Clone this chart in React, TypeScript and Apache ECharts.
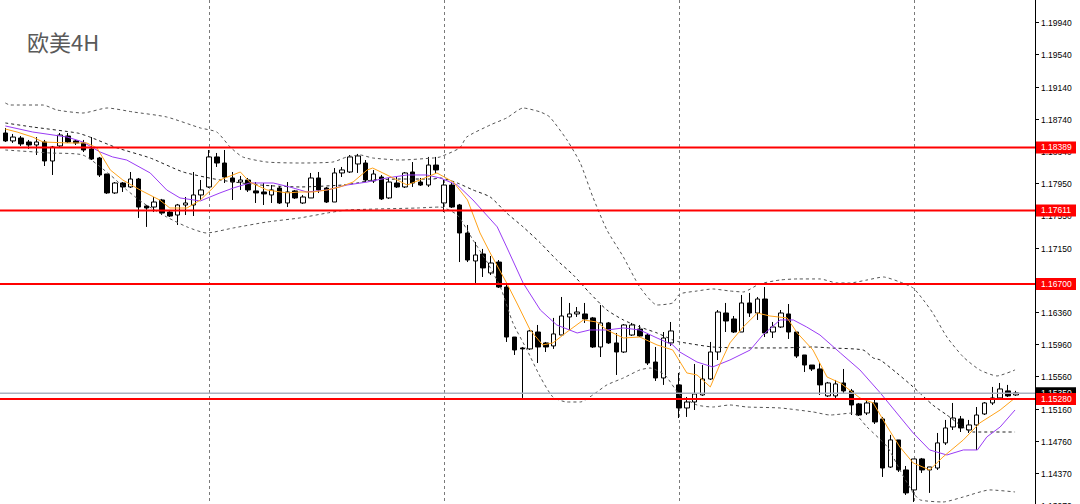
import React, { useEffect, useRef } from "react";
import * as echarts from "echarts";

const titleText = "欧美4H";

// [open, close, low, high] per 4H bar
const candles: number[][] = [
  [1.18568, 1.18470, 1.18457, 1.18630],
  [1.18470, 1.18518, 1.18445, 1.18556],
  [1.18506, 1.18433, 1.18408, 1.18531],
  [1.18457, 1.18420, 1.18371, 1.18482],
  [1.18420, 1.18457, 1.18296, 1.18518],
  [1.18457, 1.18222, 1.18160, 1.18482],
  [1.18222, 1.18395, 1.18049, 1.18408],
  [1.18408, 1.18543, 1.18395, 1.18568],
  [1.18531, 1.18457, 1.18445, 1.18568],
  [1.18470, 1.18445, 1.18420, 1.18482],
  [1.18445, 1.18358, 1.18333, 1.18482],
  [1.18371, 1.18247, 1.18234, 1.18518],
  [1.18259, 1.18049, 1.18024, 1.18272],
  [1.18061, 1.17827, 1.17815, 1.18061],
  [1.17827, 1.17950, 1.17815, 1.17962],
  [1.17950, 1.17901, 1.17839, 1.17962],
  [1.17901, 1.17999, 1.17888, 1.18086],
  [1.17999, 1.17653, 1.17518, 1.18012],
  [1.17666, 1.17641, 1.17407, 1.17678],
  [1.17653, 1.17715, 1.17591, 1.17777],
  [1.17740, 1.17579, 1.17554, 1.17753],
  [1.17591, 1.17542, 1.17530, 1.17604],
  [1.17554, 1.17678, 1.17431, 1.17691],
  [1.17678, 1.17703, 1.17554, 1.17777],
  [1.17678, 1.17802, 1.17542, 1.18086],
  [1.17802, 1.17864, 1.17740, 1.17987],
  [1.17901, 1.18272, 1.17888, 1.18358],
  [1.18272, 1.18197, 1.18148, 1.18321],
  [1.18197, 1.18024, 1.17950, 1.18358],
  [1.18012, 1.17962, 1.17740, 1.18086],
  [1.17962, 1.17987, 1.17864, 1.18037],
  [1.17987, 1.17864, 1.17839, 1.18012],
  [1.17852, 1.17827, 1.17703, 1.17962],
  [1.17839, 1.17815, 1.17678, 1.17950],
  [1.17802, 1.17864, 1.17703, 1.17925],
  [1.17888, 1.17703, 1.17691, 1.17913],
  [1.17703, 1.17839, 1.17653, 1.17962],
  [1.17852, 1.17765, 1.17753, 1.17864],
  [1.17703, 1.17777, 1.17691, 1.17802],
  [1.17765, 1.18012, 1.17765, 1.18074],
  [1.18012, 1.17864, 1.17827, 1.18086],
  [1.17888, 1.17715, 1.17703, 1.17901],
  [1.17715, 1.18074, 1.17715, 1.18135],
  [1.18074, 1.18111, 1.18024, 1.18148],
  [1.18086, 1.18272, 1.18074, 1.18296],
  [1.18185, 1.18284, 1.18074, 1.18309],
  [1.18197, 1.17987, 1.17962, 1.18234],
  [1.17975, 1.18061, 1.17950, 1.18111],
  [1.18024, 1.17753, 1.17740, 1.18049],
  [1.17765, 1.17962, 1.17753, 1.18012],
  [1.17950, 1.17901, 1.17888, 1.18024],
  [1.17901, 1.18074, 1.17888, 1.18086],
  [1.18086, 1.17950, 1.17901, 1.18209],
  [1.17962, 1.17925, 1.17913, 1.18012],
  [1.17925, 1.18172, 1.17901, 1.18272],
  [1.18172, 1.18111, 1.18074, 1.18272],
  [1.17703, 1.17925, 1.17591, 1.17987],
  [1.17925, 1.17653, 1.17641, 1.17950],
  [1.17678, 1.17332, 1.16973, 1.17691],
  [1.17332, 1.16998, 1.16973, 1.17431],
  [1.16986, 1.17060, 1.16714, 1.17221],
  [1.17073, 1.16900, 1.16788, 1.17135],
  [1.16838, 1.16961, 1.16813, 1.17048],
  [1.16973, 1.16664, 1.16652, 1.16998],
  [1.16664, 1.16046, 1.15985, 1.16689],
  [1.16046, 1.15886, 1.15824, 1.16046],
  [1.15911, 1.15899, 1.15293, 1.15923],
  [1.15899, 1.16121, 1.15886, 1.16133],
  [1.16108, 1.15923, 1.15725, 1.16195],
  [1.15973, 1.15923, 1.15861, 1.15985],
  [1.15936, 1.16084, 1.15899, 1.16282],
  [1.16071, 1.16306, 1.16071, 1.16541],
  [1.16294, 1.16331, 1.16133, 1.16467],
  [1.16331, 1.16355, 1.16294, 1.16417],
  [1.16331, 1.16269, 1.16220, 1.16467],
  [1.16282, 1.15923, 1.15911, 1.16294],
  [1.15923, 1.16220, 1.15799, 1.16442],
  [1.16220, 1.15973, 1.15961, 1.16232],
  [1.15973, 1.15861, 1.15577, 1.16096],
  [1.15861, 1.16195, 1.15849, 1.16207],
  [1.16071, 1.16195, 1.16059, 1.16220],
  [1.16145, 1.16059, 1.16046, 1.16195],
  [1.16071, 1.15725, 1.15700, 1.16096],
  [1.15737, 1.15540, 1.15503, 1.15923],
  [1.15540, 1.16034, 1.15454, 1.16108],
  [1.15973, 1.16121, 1.15936, 1.16232],
  [1.15454, 1.15169, 1.15045, 1.15602],
  [1.15169, 1.15243, 1.15058, 1.15305],
  [1.15243, 1.15342, 1.15144, 1.15713],
  [1.15330, 1.15527, 1.15318, 1.15700],
  [1.15527, 1.15861, 1.15515, 1.15985],
  [1.15861, 1.16355, 1.15762, 1.16380],
  [1.16343, 1.16244, 1.16108, 1.16467],
  [1.16269, 1.16108, 1.16096, 1.16306],
  [1.16108, 1.16467, 1.16108, 1.16566],
  [1.16467, 1.16343, 1.16294, 1.16591],
  [1.16343, 1.16516, 1.16257, 1.16541],
  [1.16516, 1.16096, 1.16046, 1.16664],
  [1.16108, 1.16170, 1.16034, 1.16232],
  [1.16170, 1.16343, 1.16158, 1.16380],
  [1.16331, 1.16108, 1.16022, 1.16454],
  [1.16108, 1.15811, 1.15787, 1.16108],
  [1.15824, 1.15700, 1.15614, 1.15824],
  [1.15700, 1.15651, 1.15626, 1.15700],
  [1.15651, 1.15454, 1.15330, 1.15737],
  [1.15318, 1.15478, 1.15305, 1.15491],
  [1.15318, 1.15466, 1.15293, 1.15515],
  [1.15478, 1.15380, 1.15355, 1.15651],
  [1.15380, 1.15206, 1.15082, 1.15404],
  [1.15219, 1.15082, 1.15070, 1.15231],
  [1.15107, 1.15231, 1.15082, 1.15268],
  [1.15231, 1.14996, 1.14971, 1.15268],
  [1.15033, 1.14427, 1.14316, 1.15058],
  [1.14439, 1.14774, 1.14427, 1.14836],
  [1.14774, 1.14403, 1.14378, 1.14774],
  [1.14403, 1.14119, 1.14094, 1.14452],
  [1.14156, 1.14539, 1.14007, 1.14539],
  [1.14539, 1.14403, 1.14366, 1.14551],
  [1.14403, 1.14440, 1.14119, 1.14440],
  [1.14427, 1.14737, 1.14403, 1.14860],
  [1.14737, 1.14922, 1.14712, 1.15021],
  [1.14934, 1.15045, 1.14897, 1.15231],
  [1.15033, 1.14922, 1.14872, 1.15070],
  [1.14897, 1.14959, 1.14860, 1.15021],
  [1.14959, 1.15082, 1.14650, 1.15181],
  [1.15095, 1.15231, 1.15082, 1.15243],
  [1.15231, 1.15293, 1.15206, 1.15429],
  [1.15293, 1.15404, 1.15280, 1.15478],
  [1.15380, 1.15318, 1.15305, 1.15454],
  [1.15330, 1.15355, 1.15318, 1.15380],
];

// bar slots on the x axis (130 bars + 2 empty slots of chart shift)
const barLabels: string[] = candles.map((_, i) => "B" + i).concat(["B130", "B131"]);

// fast MA (orange) read at bar positions
const maFast: number[][] = [
  [0, 1.18617], [1.5, 1.1858], [3.5, 1.18518], [4.8, 1.18457], [7.9, 1.18445], [10.4, 1.18445],
  [11.7, 1.18383], [13.4, 1.18111], [15.0, 1.17987], [17.2, 1.17864], [19.7, 1.1774], [21.0, 1.17641],
  [23.2, 1.17641], [24.9, 1.1774], [26.5, 1.17888], [27.4, 1.17987], [30.0, 1.18086], [31.2, 1.17962],
  [33.4, 1.17864], [36.0, 1.17827], [37.6, 1.17839], [39.3, 1.17839], [41.1, 1.17864], [42.7, 1.17901],
  [44.4, 1.17962], [46.2, 1.18111], [46.9, 1.18135], [48.2, 1.18074], [49.5, 1.18012], [51.3, 1.17925],
  [52.9, 1.17987], [55.1, 1.18074], [57.2, 1.17962], [59.0, 1.1774], [60.6, 1.17332], [61.9, 1.17085],
  [64.0, 1.16714], [65.3, 1.16467], [67.0, 1.16133], [68.6, 1.15948], [69.9, 1.15973], [71.7, 1.16108],
  [73.8, 1.16257], [75.5, 1.16232], [76.8, 1.16133], [78.9, 1.16034], [81.0, 1.16046], [83.2, 1.15948],
  [85.2, 1.15886], [87.0, 1.15602], [88.3, 1.15577], [90.0, 1.15429], [91.3, 1.15725], [92.5, 1.15973],
  [94.2, 1.1617], [96.0, 1.16343], [97.6, 1.16306], [99.8, 1.16282], [101.1, 1.16096], [103.1, 1.15886],
  [104.9, 1.15552], [106.6, 1.15478], [109.1, 1.15293], [110.8, 1.15231], [112.6, 1.14934], [114.2, 1.14687],
  [115.9, 1.14489], [118.0, 1.14403], [119.7, 1.14563], [122.3, 1.14774], [124.4, 1.14984], [127.0, 1.15144],
  [128.9, 1.15293],
];

// slow MA (purple)
const maSlow: number[][] = [
  [0, 1.18655], [3.5, 1.1858], [7.9, 1.18518], [9.9, 1.18457], [12.1, 1.18333], [13.7, 1.18272],
  [15.5, 1.18234], [18.5, 1.18074], [20.6, 1.17864], [22.3, 1.17765], [24.9, 1.17728], [27.4, 1.17827],
  [29.1, 1.17888], [31.2, 1.1795], [34.2, 1.1795], [36.3, 1.17901], [38.5, 1.17839], [41.1, 1.17864],
  [43.6, 1.17925], [46.2, 1.17962], [48.7, 1.18012], [51.3, 1.18049], [53.8, 1.18049], [55.5, 1.18012],
  [57.7, 1.17925], [59.7, 1.1774], [62.8, 1.17407], [64.0, 1.17159], [66.1, 1.16714], [68.3, 1.1638],
  [70.4, 1.16195], [73.0, 1.16096], [74.6, 1.16133], [76.8, 1.16133], [78.9, 1.16158], [81.0, 1.16133],
  [83.2, 1.16034], [85.2, 1.15948], [86.1, 1.15861], [88.3, 1.15737], [90.3, 1.15676], [92.5, 1.15762],
  [95.1, 1.15886], [96.7, 1.16071], [98.9, 1.16257], [100.6, 1.16257], [102.3, 1.1617], [104.0, 1.16071],
  [106.6, 1.15849], [109.1, 1.15639], [111.7, 1.15355], [113.8, 1.15107], [115.9, 1.1486], [118.0, 1.1465],
  [120.2, 1.14588], [122.3, 1.1465], [124.1, 1.1465], [125.3, 1.14811], [127.0, 1.14934], [128.9, 1.15144],
];

// Bollinger upper band
const bandUpper: number[][] = [
  [0, 1.18939], [0.6, 1.18914], [4.8, 1.18914], [6.6, 1.18852], [9.9, 1.18815], [13.0, 1.18877],
  [16.3, 1.18828], [20.6, 1.18766], [24.9, 1.1863], [27.0, 1.1858], [28.7, 1.18395], [30.3, 1.18272],
  [33.4, 1.18209], [37.6, 1.18197], [41.8, 1.18209], [43.6, 1.18272], [45.3, 1.18296], [46.9, 1.18259],
  [50.4, 1.18234], [54.6, 1.18259], [55.5, 1.18272], [58.0, 1.18383], [58.9, 1.18518], [61.9, 1.18667],
  [64.0, 1.18754], [66.1, 1.18877], [68.3, 1.18828], [69.5, 1.18766], [71.7, 1.18482], [73.4, 1.18197],
  [75.0, 1.17777], [76.8, 1.17369], [78.9, 1.17036], [81.0, 1.16664], [83.2, 1.16442], [85.2, 1.16467],
  [86.1, 1.16578], [88.3, 1.16615], [90.3, 1.1664], [92.5, 1.16615], [94.2, 1.16603], [96.3, 1.16702],
  [98.9, 1.16751], [101.1, 1.16764], [104.0, 1.16764], [106.2, 1.16714], [107.8, 1.16714], [110.0, 1.16751],
  [112.1, 1.16788], [114.2, 1.16726], [115.9, 1.16652], [117.2, 1.16504], [118.4, 1.16343], [120.2, 1.16046],
  [122.3, 1.15799], [124.4, 1.15639], [126.6, 1.15565], [128.9, 1.15639],
];

// Bollinger middle line
const bandMiddle: number[][] = [
  [0, 1.18692], [3.5, 1.18642], [9.2, 1.18568], [10.8, 1.18518], [14.3, 1.18383], [18.5, 1.18259],
  [22.7, 1.18086], [27.4, 1.17987], [32.5, 1.17925], [37.6, 1.17901], [43.1, 1.17925], [44.9, 1.1795],
  [46.9, 1.17987], [50.4, 1.17999], [54.6, 1.17999], [55.5, 1.18012], [57.7, 1.1795], [59.7, 1.17864],
  [61.9, 1.17777], [64.0, 1.17579], [66.1, 1.17407], [68.3, 1.17209], [70.4, 1.16998], [72.5, 1.16813],
  [74.6, 1.16591], [76.8, 1.1638], [78.9, 1.16257], [81.0, 1.1617], [83.2, 1.16096], [85.2, 1.1601],
  [86.1, 1.15985], [90.3, 1.15923], [94.7, 1.15911], [98.9, 1.15911], [103.1, 1.15923], [105.3, 1.15911],
  [109.5, 1.15886], [110.8, 1.15787], [111.7, 1.15762], [113.8, 1.15602], [115.9, 1.15429], [118.4, 1.15206],
  [120.2, 1.15082], [121.9, 1.14959], [123.5, 1.14872], [128.9, 1.14872],
];

// Bollinger lower band
const bandLower: number[][] = [
  [0, 1.18358], [5.7, 1.18321], [9.9, 1.18296], [13.4, 1.18049], [15.5, 1.17864], [17.6, 1.17703],
  [20.6, 1.1753], [23.2, 1.17407], [25.7, 1.17332], [29.1, 1.17394], [33.4, 1.17468], [37.6, 1.17518],
  [41.1, 1.17579], [43.6, 1.17616], [52.6, 1.17641], [55.5, 1.17653], [57.7, 1.17554], [59.7, 1.17246],
  [61.5, 1.16973], [63.2, 1.16664], [64.8, 1.1622], [66.6, 1.15886], [68.3, 1.15552], [69.9, 1.15305],
  [71.7, 1.15243], [73.4, 1.15243], [75.0, 1.1533], [76.8, 1.15454], [78.9, 1.1554], [81.0, 1.15639],
  [82.3, 1.15663], [84.2, 1.15577], [86.1, 1.1533], [88.3, 1.15206], [90.3, 1.15181], [92.5, 1.15206],
  [94.7, 1.15181], [98.9, 1.15169], [103.1, 1.1512], [105.3, 1.15082], [108.2, 1.15107], [110.0, 1.14934],
  [112.6, 1.14687], [114.2, 1.14403], [115.9, 1.14119], [116.8, 1.14032], [119.7, 1.14007], [122.3, 1.14069],
  [125.7, 1.14156], [128.9, 1.14131],
];

const yTickValues: number[] = [
  1.1994, 1.1954, 1.1914, 1.1874, 1.1834, 1.1795, 1.1755, 1.1715,
  1.1675, 1.1636, 1.1596, 1.1556, 1.1516, 1.1476, 1.1437, 1.1397,
];
const keyLevels: number[] = [1.18389, 1.17611, 1.167, 1.1528];
const lastPrice = 1.1535;
const weekStarts: number[] = [26, 56, 86, 116];

const Y_MIN = 1.13982;
const Y_MAX = 1.20212;

export default function App() {
  const ref = useRef<HTMLDivElement>(null);

  useEffect(() => {
    if (!ref.current) return;
    const chart = echarts.init(ref.current, undefined, { renderer: "svg" });
    const slots = barLabels.length;
    const dashBand = { type: [3, 3] as number[], width: 1 };

    chart.setOption({
      animation: false,
      backgroundColor: "#ffffff",
      title: {
        text: titleText,
        left: 22,
        top: 25,
        textStyle: { fontSize: 22, fontWeight: "normal", color: "#5a5a5a", fontFamily: "Noto Sans CJK SC" },
      },
      grid: { left: 1.4, top: 0, width: 1034, height: 504, containLabel: false },
      xAxis: [
        { type: "category", data: barLabels, boundaryGap: true, show: false },
        { type: "value", min: -0.5, max: slots - 0.5, show: false },
      ],
      yAxis: {
        type: "value",
        position: "right",
        min: Y_MIN,
        max: Y_MAX,
        axisLine: { show: true, onZero: false, lineStyle: { color: "#000", width: 1 } },
        axisTick: { show: false },
        axisLabel: { show: false },
        splitLine: { show: false },
      },
      series: [
        {
          type: "candlestick",
          xAxisIndex: 0,
          data: candles,
          barWidth: 5,
          z: 2,
          itemStyle: {
            color: "#ffffff",
            color0: "#000000",
            borderColor: "#000000",
            borderColor0: "#000000",
            borderWidth: 1,
          },
        },
        {
          type: "line", xAxisIndex: 1, data: bandUpper, showSymbol: false, smooth: 0.2, z: 3,
          lineStyle: { ...dashBand, color: "#555555" },
        },
        {
          type: "line", xAxisIndex: 1, data: bandMiddle, showSymbol: false, smooth: 0.2, z: 3,
          lineStyle: { ...dashBand, color: "#222222" },
        },
        {
          type: "line", xAxisIndex: 1, data: bandLower, showSymbol: false, smooth: 0.2, z: 3,
          lineStyle: { ...dashBand, color: "#555555" },
        },
        {
          type: "line", xAxisIndex: 1, data: maSlow, showSymbol: false, z: 4,
          lineStyle: { width: 1, color: "#9a3cf5" },
        },
        {
          type: "line", xAxisIndex: 1, data: maFast, showSymbol: false, z: 4,
          lineStyle: { width: 1, color: "#ffa31a" },
        },
      ],
    });

    const yPx = (v: number) => chart.convertToPixel({ yAxisIndex: 0 }, v) as number;
    const xPx = (v: number) => chart.convertToPixel({ xAxisIndex: 1 }, v) as number;
    const axisX = Math.round(xPx(slots - 0.5));
    const font = "8.5px 'Liberation Sans', Arial, sans-serif";
    const graphics: any[] = [];

    // weekly separators (behind the bars)
    weekStarts.forEach((b) => {
      const x = Math.round(xPx(b)) + 0.5;
      graphics.push({
        type: "line",
        z: -10,
        silent: true,
        shape: { x1: x, y1: 0, x2: x, y2: 504 },
        style: { stroke: "#7a7a7a", lineWidth: 1, lineDash: [3, 3] },
      });
    });

    // current price line
    {
      const y = yPx(lastPrice);
      graphics.push({
        type: "line",
        z: 50,
        silent: true,
        shape: { x1: 0, y1: y, x2: axisX, y2: y },
        style: { stroke: "#aab2c0", lineWidth: 1.5 },
      });
    }
    // key horizontal levels
    keyLevels.forEach((v) => {
      const y = yPx(v);
      graphics.push({
        type: "line",
        z: 51,
        silent: true,
        shape: { x1: 0, y1: y, x2: axisX, y2: y },
        style: { stroke: "#ff0000", lineWidth: 2 },
      });
    });

    yTickValues.forEach((v) => {
      const y = Math.round(yPx(v)) + 0.5;
      graphics.push({
        type: "line",
        z: 60,
        shape: { x1: axisX, y1: y, x2: axisX + 4, y2: y },
        style: { stroke: "#000", lineWidth: 1 },
      });
      graphics.push({
        type: "text",
        z: 60,
        x: axisX + 6,
        y: y,
        style: { text: v.toFixed(5), font, fill: "#000", verticalAlign: "middle" },
      });
    });

    const addTag = (v: number, bg: string, z: number) => {
      const y = yPx(v);
      graphics.push({
        type: "rect",
        z,
        shape: { x: axisX + 1, y: y - 6, width: 40, height: 12 },
        style: { fill: bg },
      });
      graphics.push({
        type: "text",
        z: z + 1,
        x: axisX + 6,
        y: y,
        style: { text: v.toFixed(5), font, fill: "#ffffff", verticalAlign: "middle" },
      });
    };
    addTag(lastPrice, "#000000", 70);
    keyLevels.forEach((v) => addTag(v, "#ff0000", 80));

    chart.setOption({ graphic: graphics });

    return () => chart.dispose();
  }, []);

  return (
    <div
      ref={ref}
      style={{ position: "fixed", left: 0, top: 0, width: 1080, height: 504, background: "#fff" }}
    />
  );
}
